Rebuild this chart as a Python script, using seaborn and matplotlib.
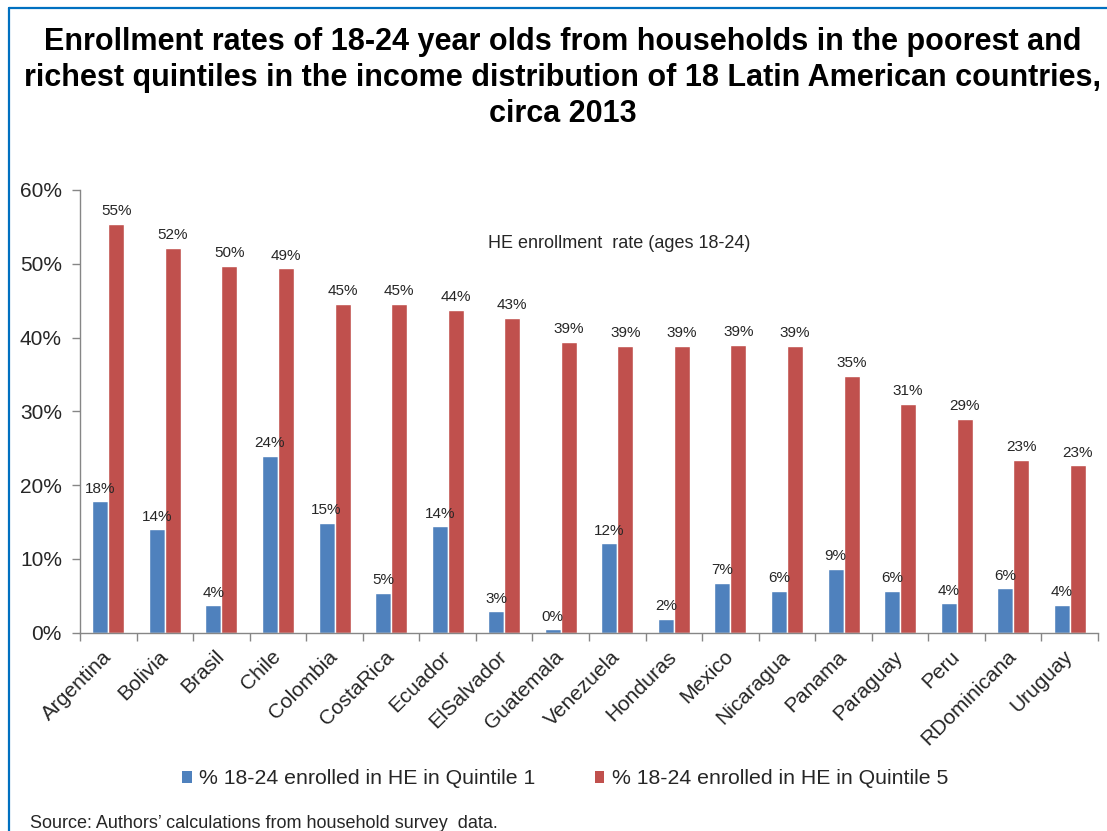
import matplotlib
matplotlib.use("Agg")
import matplotlib.pyplot as plt
from matplotlib.patches import Patch
from matplotlib.lines import Line2D
from matplotlib.ticker import FixedLocator, FuncFormatter
import seaborn as sns
import pandas as pd

countries = ["Argentina", "Bolivia", "Brasil", "Chile", "Colombia", "CostaRica",
             "Ecuador", "ElSalvador", "Guatemala", "Venezuela", "Honduras", "Mexico",
             "Nicaragua", "Panama", "Paraguay", "Peru", "RDominicana", "Uruguay"]
quintile1 = [17.8, 14.0, 3.7, 24.0, 14.9, 5.4, 14.4, 2.9, 0.45, 12.1, 1.9, 6.8,
             5.7, 8.7, 5.7, 4.0, 6.0, 3.8]
quintile5 = [55.4, 52.2, 49.7, 49.4, 44.6, 44.6, 43.8, 42.7, 39.4, 38.9, 38.9, 39.0,
             38.9, 34.8, 31.0, 29.0, 23.4, 22.7]
series_names = ["% 18-24 enrolled in HE in Quintile 1",
                "% 18-24 enrolled in HE in Quintile 5"]
yticks = [0, 10, 20, 30, 40, 50, 60]

title = ("Enrollment rates of 18-24 year olds from households in the poorest and\n"
         "richest quintiles in the income distribution of 18 Latin American countries,\n"
         "circa 2013")
note = "HE enrollment  rate (ages 18-24)"
source = "Source: Authors\u2019 calculations from household survey  data."

blue = "#4F81BD"
red = "#C0504D"
axis_gray = "#868686"

df = pd.DataFrame({
    "country": countries * 2,
    "series": [series_names[0]] * len(countries) + [series_names[1]] * len(countries),
    "value": quintile1 + quintile5,
})

sns.set_style("white")
plt.rcParams["font.family"] = ["Liberation Sans", "DejaVu Sans"]

fig = plt.figure(figsize=(11.07, 8.31), dpi=100)
ax = fig.add_axes([0.0723, 0.2386, 0.9196, 0.5328])

sns.barplot(data=df, x="country", y="value", hue="series", order=countries,
            hue_order=series_names, palette=[blue, red], width=0.566,
            saturation=1, legend=False, ax=ax, errorbar=None)

for cont in ax.containers:
    ax.bar_label(cont, labels=[f"{v:.0f}%" for v in cont.datavalues],
                 padding=4, fontsize=11, color="#262626")

ax.set_xlim(-0.5, len(countries) - 0.5)
ax.set_ylim(0, 60)
ax.set_yticks(yticks)
ax.yaxis.set_major_formatter(FuncFormatter(lambda v, p: f"{v:.0f}%"))
ax.set_xlabel("")
ax.set_ylabel("")

ax.set_xticks(range(len(countries)))
ax.set_xticklabels(countries, rotation=45, ha="right", va="center",
                   rotation_mode="anchor", fontsize=15)
ax.xaxis.set_minor_locator(FixedLocator([i - 0.5 for i in range(len(countries) + 1)]))
ax.tick_params(axis="x", which="major", length=0, pad=15)
ax.tick_params(axis="x", which="minor", length=6, width=1, color=axis_gray,
               direction="out", bottom=True)
ax.tick_params(axis="y", length=6, width=1, color=axis_gray, direction="out",
               labelsize=15, pad=7, left=True)

for side in ["top", "right"]:
    ax.spines[side].set_visible(False)
for side in ["left", "bottom"]:
    ax.spines[side].set_color(axis_gray)
    ax.spines[side].set_linewidth(1)

ax.text(0.53, 0.88, note, transform=ax.transAxes, ha="center", va="center",
        fontsize=13, color="#262626")

fig.text(0.508, 1 - 27 / 831, title, ha="center", va="top", fontsize=22,
         fontweight="bold", linespacing=1.27, color="black")

handles = [Patch(facecolor=blue, edgecolor="none"), Patch(facecolor=red, edgecolor="none")]
fig.legend(handles, series_names, loc="center", bbox_to_anchor=(565 / 1107, 1 - 779 / 831),
           ncol=2, frameon=False, fontsize=15.3, handlelength=0.45, handleheight=0.45,
           handletextpad=0.35, columnspacing=2.8)

fig.text(30 / 1107, 1 - 823 / 831, source, ha="left", va="center", fontsize=13,
         color="#262626")

# frame lines along the top and left edge
fig.add_artist(Line2D([9 / 1107, 1.0], [1 - 8 / 831, 1 - 8 / 831],
                      transform=fig.transFigure, color="#0070C0", lw=1.6))
fig.add_artist(Line2D([9 / 1107, 9 / 1107], [0.0, 1 - 8 / 831],
                      transform=fig.transFigure, color="#0070C0", lw=1.6))

fig.savefig("out.png", dpi=100)
